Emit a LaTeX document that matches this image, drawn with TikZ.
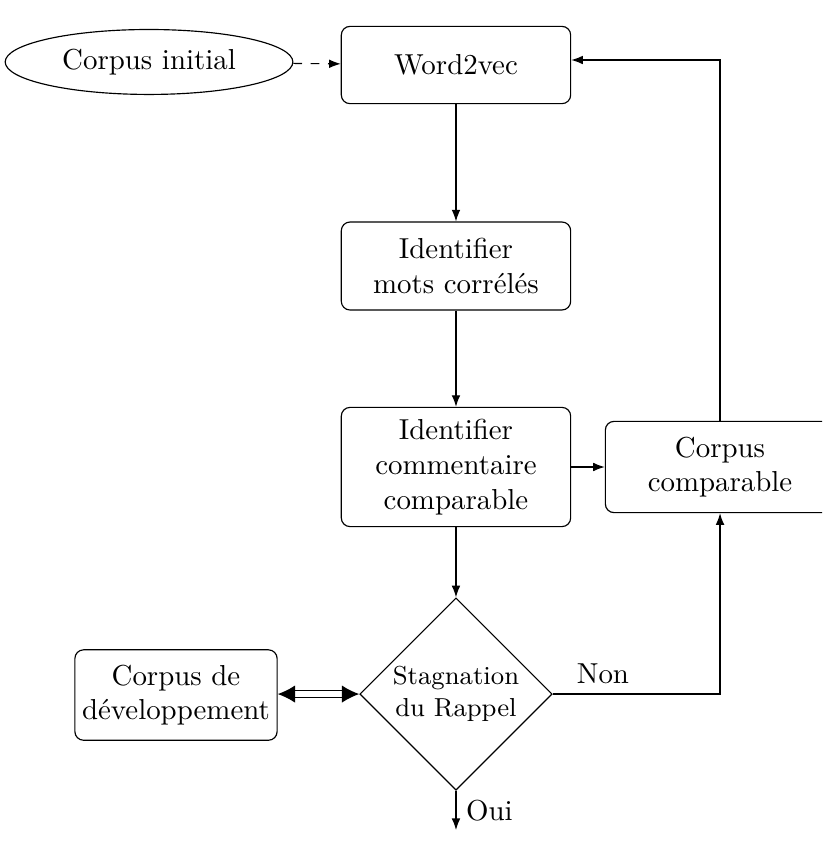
\documentclass[tikz,border=0pt]{standalone}
\usetikzlibrary{shapes.geometric,arrows.meta}
\begin{document}
\begin{tikzpicture}
[boxdecorate/.style={shape=rectangle,rounded corners=3pt,draw,align=center,text width=2.5cm,minimum width=2.79cm,inner sep=2pt},%
  ovaldecorate/.style={shape=ellipse,draw,minimum width=3.5cm,minimum height=0.79cm},%
  choicedecorate/.style={shape=diamond,draw,align=center,font=\small,minimum width=2.34cm,minimum height=2.34cm,inner sep=0pt},%
  linedecorate/.style={-{Latex[length=4pt,width=3pt]}},%
  twowaydecorate/.style={{Latex[length=6pt,width=6pt]}-{Latex[length=6pt,width=6pt]},double,double distance=1.8pt}]
\clip (0,0) rectangle (10,-10.255);
%% nodes or steps
\node (corpus) at (1.813,-0.754) [ovaldecorate] {Corpus initial};
\node (w2v) at (5.547,-0.791) [boxdecorate,minimum height=0.94cm] {Word2vec};
\node (mots) at (5.547,-3.236) [boxdecorate,minimum height=1.07cm] {Identifier\\mots corrélés};
\node (comm) at (5.547,-5.681) [boxdecorate,minimum height=1.45cm] {Identifier\\commentaire\\comparable};
\node (comp) at (8.759,-5.681) [boxdecorate,minimum height=1.11cm] {Corpus\\comparable};
\node (stag) at (5.547,-8.443) [choicedecorate] {Stagnation\\du Rappel};
\node (dev) at (2.141,-8.455) [boxdecorate,text width=2.3cm,minimum width=2.46cm,minimum height=1.1cm] {Corpus de\\développement};
\coordinate (loop) at (8.759,-0.73);
\coordinate (back) at (8.759,-8.443);
\coordinate (oui) at (5.547,-10.097);
%% edges or arrows
\draw[linedecorate,dashed] (corpus) -- (w2v);
\path
\foreach \startnode/\endnode in {w2v/mots, mots/comm, comm/stag, comm/comp}
{
  (\startnode) edge[linedecorate] (\endnode)
};
\draw[linedecorate] (stag) -- (oui) node[pos=0.5,right] {Oui};
\draw[linedecorate] (stag.east) -- (back) node[pos=0.3,above] {Non} -- (comp.south);
\draw[linedecorate] (comp.north) -- (loop) -- (loop -| w2v.east);
\draw[twowaydecorate] (dev.east |- stag.west) -- (stag.west);
\end{tikzpicture}
\end{document}
